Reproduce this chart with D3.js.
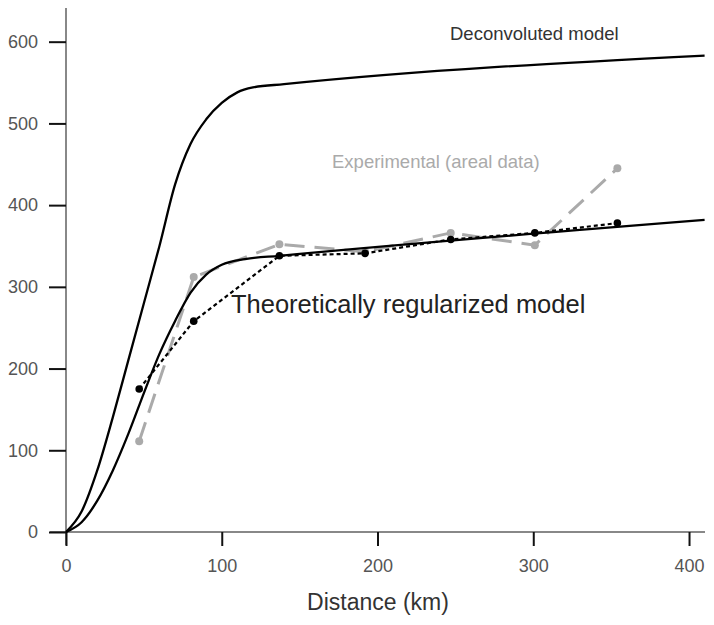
<!DOCTYPE html>
<html>
<head>
<meta charset="utf-8">
<title>Distance model</title>
<script src="https://cdn.jsdelivr.net/npm/d3@7/dist/d3.min.js"></script>
<style>
  body { margin: 0; background: #fff; }
  svg { display: block; font-family: "Liberation Sans", Arial, sans-serif; }
</style>
</head>
<body>
<div id="chart"></div>
<script>
// deconvoluted model curve (distance km, value)
var deconvDist = [0, 10, 20, 30, 40, 50, 60, 70, 80, 90, 100, 110, 120, 140, 410];
var deconvVal  = [0, 25, 75, 140, 210, 280, 350, 425, 475, 505, 525, 538, 544, 548, 583];

// theoretically regularized model curve
var theoDist = [0, 10, 20, 30, 40, 50, 60, 70, 80, 90, 100, 115, 137, 410];
var theoVal  = [0, 12, 38, 75, 120, 170, 218, 258, 293, 315, 327, 334, 338, 382];

// sample points
var sampleDist = [47, 82, 137, 192, 247, 301, 354];
var regularVal = [175, 258, 338, 341, 358, 366, 378];
var expVal     = [111, 312, 352, 343, 366, 351, 445];

var xMajor = [0, 100, 200, 300, 400];
var yMajor = [0, 100, 200, 300, 400, 500, 600];

var W = 714, H = 625;
var x = d3.scaleLinear().domain([0, 410]).range([66, 704.6]);
var y = d3.scaleLinear().domain([0, 640]).range([532, 9]);

var svg = d3.select("#chart").append("svg").attr("width", W).attr("height", H);

function zip(a, b) { return a.map(function (d, i) { return [d, b[i]]; }); }

var line = d3.line()
    .x(function (d) { return x(d[0]); })
    .y(function (d) { return y(d[1]); });

// axes lines (gray)
svg.append("line").attr("x1", 50).attr("x2", 705).attr("y1", y(0)).attr("y2", y(0))
    .attr("stroke", "#888").attr("stroke-width", 2);
svg.append("line").attr("x1", x(0)).attr("x2", x(0)).attr("y1", 8).attr("y2", 545)
    .attr("stroke", "#888").attr("stroke-width", 2);

var xMinor = d3.range(20, 401, 20).filter(function (v) { return v % 100 !== 0; });
var yMinor = d3.range(20, 641, 20).filter(function (v) { return v % 100 !== 0; });

var gx = svg.append("g").attr("transform", "translate(0," + y(0) + ")");
gx.call(d3.axisBottom(x).tickValues(xMinor).tickSize(8).tickFormat(""));
gx.call(d3.axisBottom(x).tickValues(xMajor).tickSize(14).tickPadding(13).tickFormat(d3.format("d")));
var gy = svg.append("g").attr("transform", "translate(" + x(0) + ",0)");
gy.call(d3.axisLeft(y).tickValues(yMinor).tickSize(9).tickFormat(""));
gy.call(d3.axisLeft(y).tickValues(yMajor).tickSize(17).tickPadding(11).tickFormat(d3.format("d")));

svg.selectAll(".domain").remove();
svg.selectAll(".tick line").attr("stroke", "#111").attr("stroke-width", 2);
svg.selectAll(".tick text").attr("fill", "#555").style("font-size", "18px")
    .style("font-family", "'Liberation Sans', Arial, sans-serif");

// experimental (gray dashed)
var expPts = zip(sampleDist, expVal);
svg.append("path").datum(expPts).attr("d", line)
    .attr("fill", "none").attr("stroke", "#aaa").attr("stroke-width", 3)
    .attr("stroke-dasharray", "20,10");
svg.append("g").selectAll("circle").data(expPts).enter().append("circle")
    .attr("cx", function (d) { return x(d[0]); })
    .attr("cy", function (d) { return y(d[1]); })
    .attr("r", 4).attr("fill", "#aaa");

// smooth model curves
var smooth = d3.line().curve(d3.curveMonotoneX)
    .x(function (d) { return x(d[0]); })
    .y(function (d) { return y(d[1]); });

svg.append("path").datum(zip(deconvDist, deconvVal)).attr("d", smooth)
    .attr("fill", "none").attr("stroke", "#000").attr("stroke-width", 2.3);
svg.append("path").datum(zip(theoDist, theoVal)).attr("d", smooth)
    .attr("fill", "none").attr("stroke", "#000").attr("stroke-width", 2.3);

// regularized samples (black dotted)
var regPts = zip(sampleDist, regularVal);
svg.append("path").datum(regPts).attr("d", line)
    .attr("fill", "none").attr("stroke", "#000").attr("stroke-width", 2.2)
    .attr("stroke-dasharray", "4,3");
svg.append("g").selectAll("circle").data(regPts).enter().append("circle")
    .attr("cx", function (d) { return x(d[0]); })
    .attr("cy", function (d) { return y(d[1]); })
    .attr("r", 3.8).attr("fill", "#000");

// labels
svg.append("text").attr("x", 450).attr("y", 40).text("Deconvoluted model")
    .style("font-size", "18.5px").attr("fill", "#333");
svg.append("text").attr("x", 332).attr("y", 168).text("Experimental (areal data)")
    .style("font-size", "18.5px").attr("fill", "#aaa");
svg.append("text").attr("x", 231).attr("y", 313).text("Theoretically regularized model")
    .style("font-size", "25.5px").attr("fill", "#222");
svg.append("text").attr("x", 378).attr("y", 610).attr("text-anchor", "middle")
    .text("Distance (km)").style("font-size", "23px").attr("fill", "#333");
</script>
</body>
</html>
